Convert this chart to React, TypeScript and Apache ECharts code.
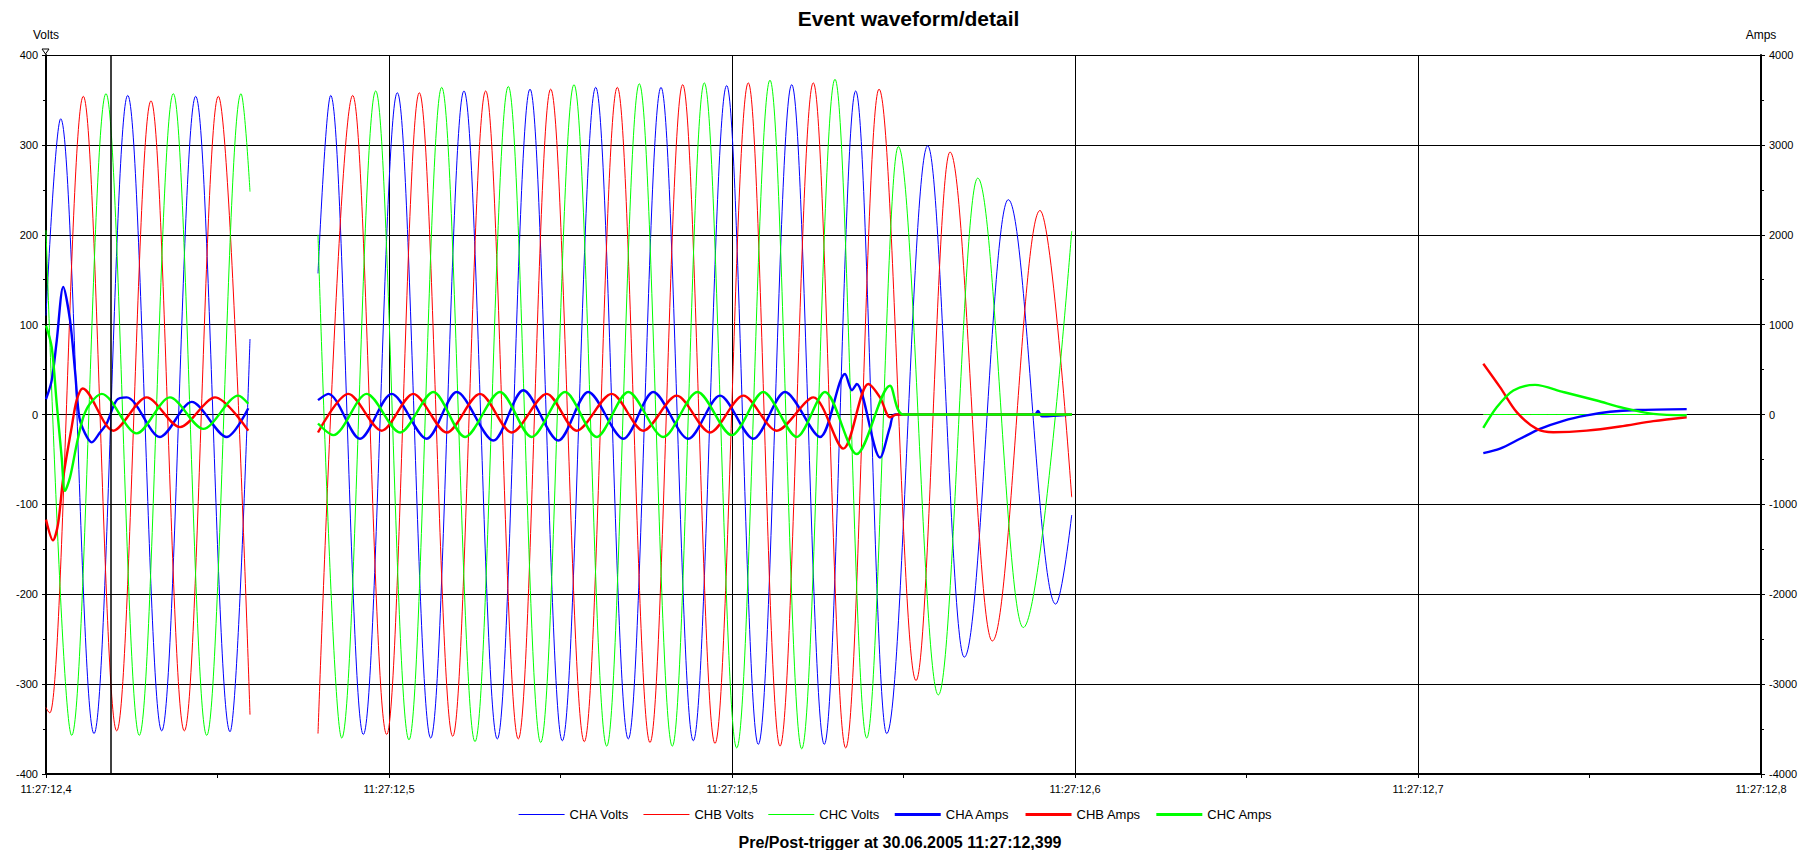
import React, { useEffect, useRef } from 'react';
import * as echarts from 'echarts';

// Time axis: milliseconds from the left edge of the plot
const X_TICK_LABELS = ['11:27:12,4', '11:27:12,5', '11:27:12,5', '11:27:12,6', '11:27:12,7', '11:27:12,8'];
const X_MIN = 0;
const X_MAX = 400;
const X_STEP = 80;
const TRIGGER_MS = 15.2;

const TITLE = 'Event waveform/detail';
const FOOTER = 'Pre/Post-trigger at 30.06.2005 11:27:12,399';
const SERIES_NAMES = ['CHA Volts', 'CHB Volts', 'CHC Volts', 'CHA Amps', 'CHB Amps', 'CHC Amps'];

type Pt = [number, number | null];

// Voltage extrema (peaks / troughs), plus segment ends
const CHA_VOLTS: Pt[] = [
  [0, 110], [3.43, 329], [11.2, -355], [19.06, 355], [26.99, -352], [34.91, 354], [42.92, -353], [47.58, 84],
  [55, null],
  [63.44, 157], [66.4, 355], [74.01, -356], [81.94, 358], [89.73, -360], [97.49, 360], [105.26, -361],
  [112.89, 362], [120.42, -363], [128.21, 364], [135.81, -361], [143.44, 364], [150.97, -363], [158.76, 366],
  [166.13, -367], [173.93, 367], [181.53, -367], [188.85, 360], [196.08, -355], [205.64, 299], [214.18, -270],
  [224.44, 239], [235.5, -211], [239.23, -112],
  [290, null],
  [335.23, 0], [382.67, 0],
];

const CHB_VOLTS: Pt[] = [
  [0, -326], [0.9, -332], [8.7, 354], [16.49, -352], [24.49, 349], [32.26, -352], [40.19, 354], [47.58, -334],
  [55, null],
  [63.44, -355], [71.53, 355], [79.46, -356], [87.07, 358], [94.86, -358], [102.55, 360], [110.16, -361],
  [117.71, 362], [125.55, -364], [133.25, 364], [140.87, -365], [148.5, 367], [156.03, -366], [163.8, 369],
  [171.2, -369], [178.96, 369], [186.52, -371], [194.29, 362], [202.92, -296], [210.85, 292], [220.71, -252],
  [231.84, 227], [239.23, -92],
  [290, null],
  [335.23, 0], [382.67, 0],
];

const CHC_VOLTS: Pt[] = [
  [0, 205], [5.99, -357], [13.99, 357], [21.76, -357], [29.69, 357], [37.48, -357], [45.48, 357], [47.58, 248],
  [55, null],
  [63.44, 200], [68.97, -360], [76.9, 360], [84.66, -362], [92.29, 364], [100.06, -364], [107.83, 365],
  [115.38, -365], [123.15, 367], [130.78, -369], [138.38, 368], [146.08, -369], [153.54, 369], [161.1, -371],
  [168.86, 372], [176.26, -372], [184.02, 373], [191.42, -360], [198.79, 298], [208.12, -312], [217.31, 263],
  [227.94, -237], [239.23, 204],
  [290, null],
  [335.23, 0], [382.67, 0],
];

// Currents (right axis, amps)
const CHA_AMPS: Pt[] = [
  [0, 170], [1.33, 380], [2.5, 820], [4.03, 1420], [5.6, 1050], [6.76, 490], [7.77, -30], [9.1, -210],
  [10.66, -310], [12.59, -200], [14.16, -100], [16.49, 160], [18.82, 190], [26.59, -250], [33.98, 140],
  [42.15, -250], [47.18, 70],
  [55, null],
  [63.44, 160], [65.84, 230], [73.24, -270], [80.63, 230], [88.79, -270], [95.79, 250], [104.33, -290],
  [111.32, 270], [119.49, -290], [126.48, 250], [134.65, -270], [141.64, 250], [149.81, -270], [157.2, 210],
  [164.97, -270], [172.36, 250], [180.52, -250], [186.36, 450], [187.99, 270], [189.08, 340], [194.52, -480],
  [196.85, -140], [198.02, 0], [230.67, 0], [231.37, 40], [232.3, -20], [239.3, 0],
  [290, null],
  [335.23, -430], [339.13, -380], [343.79, -270], [348.45, -160], [353.89, -70], [359.35, -10], [364.78, 30],
  [371.01, 50], [382.67, 60],
];

const CHB_AMPS: Pt[] = [
  [0, -1170], [1.63, -1400], [2.8, -1220], [4.03, -700], [5.99, -140], [7.16, 160], [8.56, 290], [15.7, -180],
  [23.49, 190], [31.25, -140], [39.42, 190], [47.18, -180],
  [55, null],
  [63.44, -200], [70.51, 230], [78.3, -180], [85.67, 230], [93.46, -200], [101.22, 230], [108.62, -200],
  [116.78, 230], [123.78, -180], [131.94, 230], [139.31, -180], [147.1, 210], [154.87, -200], [162.64, 210],
  [170.43, -180], [178.96, 190], [185.96, -380], [191.79, 340], [194.52, 190], [196.85, -30], [198.48, 0],
  [239.3, 0],
  [290, null],
  [335.23, 565], [339.13, 304], [343.02, 26], [347.69, -160], [351.56, -197], [359.35, -180], [367.11, -134],
  [374.88, -74], [382.67, -30],
];

const CHC_AMPS: Pt[] = [
  [0, 990], [1.33, 750], [2.5, 120], [3.66, -480], [4.43, -850], [5.6, -700], [7.16, -330], [8.7, -30],
  [10.26, 120], [12.99, 230], [21.15, -210], [28.92, 190], [36.69, -160], [44.85, 210], [47.18, 120],
  [55, null],
  [63.44, -100], [67.01, -230], [74.8, 230], [82.57, -200], [90.33, 250], [97.73, -250], [105.89, 250],
  [113.28, -250], [121.05, 250], [128.44, -250], [135.81, 250], [143.98, -250], [151.95, 250], [159.93, -230],
  [167.3, 250], [175.09, -250], [181.69, 250], [189.08, -440], [196.85, 320], [199.95, 0], [239.3, 0],
  [290, null],
  [335.23, -150], [338.36, 80], [342.24, 267], [347.29, 330], [353.89, 250], [361.68, 156], [367.88, 74],
  [374.88, 7], [382.67, -10],
];

const BLUE = '#0000ff';
const RED = '#ff0000';
const GREEN = '#00ff00';
const FONT = '"Liberation Sans", Arial, sans-serif';

export default function App() {
  const ref = useRef<HTMLDivElement>(null);

  useEffect(() => {
    const chart = echarts.init(ref.current!, null, { renderer: 'svg' });

    const volt = (name: string, color: string, data: Pt[], extra: any = {}) => ({
      name,
      type: 'line',
      yAxisIndex: 0,
      data,
      symbol: 'none',
      showSymbol: false,
      smooth: 0.36,
      smoothMonotone: 'x',
      connectNulls: false,
      silent: true,
      lineStyle: { color, width: 1 },
      itemStyle: { color },
      emphasis: { disabled: true },
      z: 2,
      ...extra,
    });
    const amp = (name: string, color: string, data: Pt[]) => ({
      name,
      type: 'line',
      yAxisIndex: 1,
      data,
      symbol: 'none',
      showSymbol: false,
      smooth: 0.3,
      connectNulls: false,
      silent: true,
      lineStyle: { color, width: 2.4 },
      itemStyle: { color },
      emphasis: { disabled: true },
      z: 3,
    });

    const axisLineStyle = { color: '#000', width: 2 };
    const tickStyle = { color: '#000', width: 1 };

    chart.setOption({
      animation: false,
      backgroundColor: '#fff',
      textStyle: { fontFamily: FONT, color: '#000' },
      title: {
        text: TITLE,
        left: 'center',
        top: 3,
        textStyle: { fontSize: 21, fontWeight: 'bold', color: '#000', fontFamily: FONT },
      },
      legend: {
        data: SERIES_NAMES.map((name, i) => ({
          name,
          lineStyle: { width: i < 3 ? 1.2 : 3 },
        })),
        left: 513,
        top: 803,
        itemWidth: 46,
        itemHeight: 8,
        itemGap: 14,
        itemStyle: { opacity: 0 },
        textStyle: { fontSize: 13, color: '#000', fontFamily: FONT },
      },
      grid: { left: 46, right: 56, top: 55, bottom: 76, containLabel: false },
      xAxis: {
        type: 'value',
        min: X_MIN,
        max: X_MAX,
        interval: X_STEP,
        axisLine: { show: true, onZero: false, lineStyle: axisLineStyle },
        axisTick: { show: true, length: 4, lineStyle: tickStyle },
        minorTick: { show: true, splitNumber: 2, length: 4, lineStyle: tickStyle },
        axisLabel: {
          color: '#000',
          fontSize: 11,
          fontFamily: FONT,
          margin: 9,
          formatter: (v: number) => X_TICK_LABELS[Math.round((v - X_MIN) / X_STEP)] ?? '',
        },
        splitLine: { show: true, lineStyle: { color: '#000', width: 1 } },
      },
      yAxis: [
        {
          type: 'value',
          min: -400,
          max: 400,
          interval: 100,
          position: 'left',
          name: 'Volts',
          nameLocation: 'end',
          nameGap: 14,
          nameTextStyle: { color: '#000', fontSize: 12, fontFamily: FONT },
          axisLine: { show: true, onZero: false, lineStyle: axisLineStyle },
          axisTick: { show: true, length: 4, lineStyle: tickStyle },
          minorTick: { show: true, splitNumber: 2, length: 3, lineStyle: tickStyle },
          axisLabel: { color: '#000', fontSize: 11, fontFamily: FONT, margin: 8, formatter: (v: number) => String(v) },
          splitLine: { show: true, lineStyle: { color: '#000', width: 1 } },
        },
        {
          type: 'value',
          min: -4000,
          max: 4000,
          interval: 1000,
          position: 'right',
          name: 'Amps',
          nameLocation: 'end',
          nameGap: 14,
          nameTextStyle: { color: '#000', fontSize: 12, fontFamily: FONT },
          axisLine: { show: true, onZero: false, lineStyle: axisLineStyle },
          axisTick: { show: true, length: 4, lineStyle: tickStyle },
          minorTick: { show: true, splitNumber: 2, length: 3, lineStyle: tickStyle },
          axisLabel: { color: '#000', fontSize: 11, fontFamily: FONT, margin: 8, formatter: (v: number) => String(v) },
          splitLine: { show: false },
        },
      ],
      graphic: [
        {
          type: 'text',
          x: 900,
          y: 842,
          style: {
            text: FOOTER,
            fontSize: 16,
            fontWeight: 'bold',
            fill: '#000',
            fontFamily: FONT,
            textAlign: 'center',
            textVerticalAlign: 'middle',
          },
        },
        {
          type: 'polygon',
          shape: { points: [[42, 49], [49, 49], [45.5, 54]] },
          style: { fill: '#fff', stroke: '#000', lineWidth: 1 },
          z: 10,
        },
      ],
      series: [
        volt('CHA Volts', BLUE, CHA_VOLTS, {
          markLine: {
            symbol: 'none',
            silent: true,
            label: { show: false },
            lineStyle: { color: '#000', width: 1.5, type: 'solid' },
            emphasis: { disabled: true },
            data: [{ xAxis: TRIGGER_MS }],
          },
        }),
        volt('CHB Volts', RED, CHB_VOLTS),
        volt('CHC Volts', GREEN, CHC_VOLTS),
        amp('CHA Amps', BLUE, CHA_AMPS),
        amp('CHB Amps', RED, CHB_AMPS),
        amp('CHC Amps', GREEN, CHC_AMPS),
      ],
    });

    return () => chart.dispose();
  }, []);

  return (
    <div
      ref={ref}
      style={{ position: 'fixed', left: 0, top: 0, width: 1817, height: 850, background: '#fff' }}
    />
  );
}
